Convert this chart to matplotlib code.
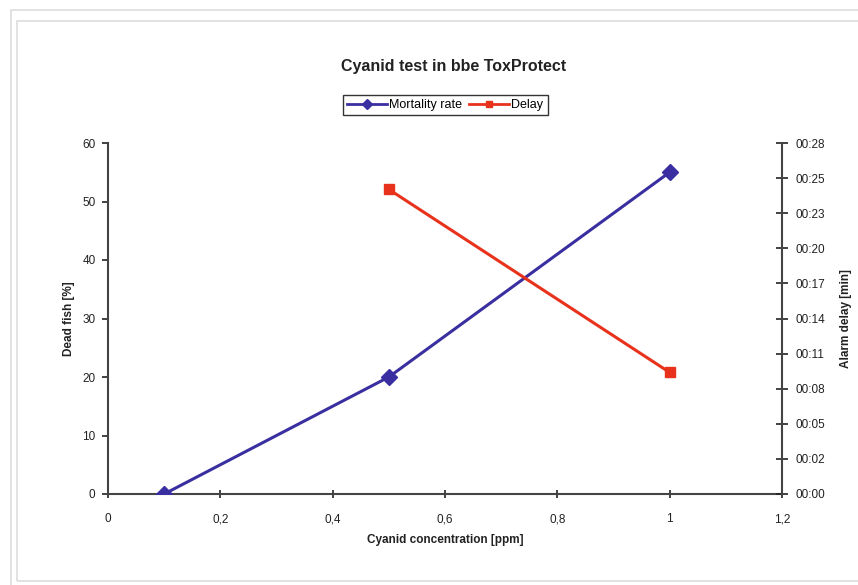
import matplotlib.pyplot as plt
from matplotlib.patches import Rectangle
from matplotlib.lines import Line2D

plt.rcParams['font.family'] = ['Liberation Sans', 'DejaVu Sans']

# data
concentration = [0.1, 0.5, 1.0]
mortality = [0, 20, 55]
delay_conc = [0.5, 1.0]
delay_sec = [24.3, 9.7]

x_ticks = [0, 0.2, 0.4, 0.6, 0.8, 1.0, 1.2]
x_labels = ['0', '0,2', '0,4', '0,6', '0,8', '1', '1,2']
left_ticks = [0, 10, 20, 30, 40, 50, 60]
right_ticks = [0, 2.8, 5.6, 8.4, 11.2, 14, 16.8, 19.6, 22.4, 25.2, 28]
right_labels = ['00:00', '00:02', '00:05', '00:08', '00:11', '00:14',
                '00:17', '00:20', '00:23', '00:25', '00:28']

blue = '#3a2fa0'
red = '#e8321c'
txt = '#222222'

fig = plt.figure(figsize=(8.58, 5.85), dpi=100)
W, H = 858, 585

# grey frames (screenshot borders)
fig.patches.append(Rectangle((11 / W, -0.05), 1.0, 1 - 10 / H + 0.05, transform=fig.transFigure,
                             fill=False, edgecolor='#dddddd', lw=1.2))
fig.patches.append(Rectangle((17 / W, 1 - 581 / H), 1.0, (581 - 21) / H, transform=fig.transFigure,
                             fill=False, edgecolor='#dddddd', lw=1.2))

ax = fig.add_axes([108 / W, 1 - 494 / H, (782 - 108) / W, (494 - 143) / H])
ax2 = ax.twinx()

ax.plot(concentration, mortality, color=blue, lw=2.2, marker='D', ms=8, zorder=3)
ax2.plot(delay_conc, delay_sec, color=red, lw=2.2, marker='s', ms=7, zorder=3)

ax.set_xlim(0, 1.2)
ax.set_ylim(0, 60)
ax2.set_ylim(0, 28)

ax.set_xticks(x_ticks)
ax.set_xticklabels(x_labels)
ax.set_yticks(left_ticks)
ax2.set_yticks(right_ticks)
ax2.set_yticklabels(right_labels)

for a in (ax, ax2):
    a.spines['top'].set_visible(False)
    for s in a.spines.values():
        s.set_color('#444444')
        s.set_linewidth(1.5)
ax.spines['right'].set_visible(False)
ax2.spines['left'].set_visible(False)
ax2.spines['bottom'].set_visible(False)

ax.tick_params(axis='y', direction='out', length=4, width=1.2, labelsize=8.5, colors=txt, pad=5)
ax.tick_params(axis='x', direction='inout', length=6, width=1.2, labelsize=8.5, colors=txt, pad=11)
ax2.tick_params(axis='y', direction='inout', length=8, width=1.2, labelsize=8.5, colors=txt, pad=6)

ax.set_xlabel('Cyanid concentration [ppm]', fontsize=8.5, fontweight='bold', color=txt, labelpad=6)
ax.set_ylabel('Dead fish [%]', fontsize=8.5, fontweight='bold', color=txt, labelpad=5)
ax2.set_ylabel('Alarm delay [min]', fontsize=8.5, fontweight='bold', color=txt, labelpad=10)

fig.text(454 / W, 1 - 66 / H, 'Cyanid test in bbe ToxProtect', ha='center', va='center',
         fontsize=11.5, fontweight='bold', color=txt)

handles = [Line2D([], [], color=blue, lw=2, marker='D', ms=5),
           Line2D([], [], color=red, lw=2, marker='s', ms=5)]
leg = fig.legend(handles, ['Mortality rate', 'Delay'], loc='center', bbox_to_anchor=(445 / W, 1 - 105 / H),
                 ncol=2, fontsize=9, frameon=True, fancybox=False, handlelength=3.2,
                 columnspacing=0.5, handletextpad=0.2, borderpad=0.35, borderaxespad=0)
leg.get_frame().set_edgecolor('#000000')
leg.get_frame().set_linewidth(1.0)

plt.savefig('out.png', dpi=100)
